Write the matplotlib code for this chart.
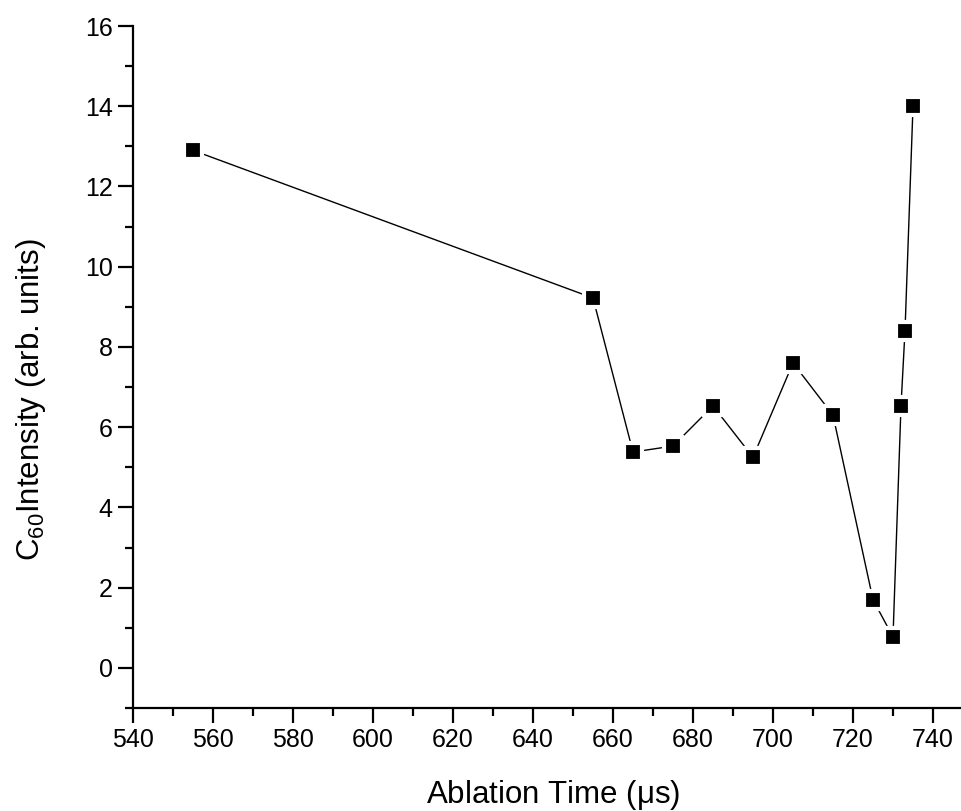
import numpy as np
import matplotlib
matplotlib.use("Agg")
from matplotlib import pyplot as plt
from matplotlib.ticker import MultipleLocator

plt.rcParams['font.family'] = ['Liberation Sans', 'DejaVu Sans']
plt.rcParams['mathtext.fontset'] = 'custom'
plt.rcParams['mathtext.rm'] = 'Liberation Sans'
plt.rcParams['mathtext.default'] = 'regular'

# ablation time (us) and C60 intensity (arb. units)
time_us = [555, 655, 665, 675, 685, 695, 705, 715, 725, 730, 732, 733, 735]
intensity = [12.9, 9.22, 5.38, 5.53, 6.53, 5.25, 7.6, 6.3, 1.7, 0.77, 6.53, 8.4, 14.0]

fig = plt.figure(figsize=(9.61, 8.11), dpi=100)
ax = fig.add_axes([133/961, 1 - 708/811, 1 - 133/961, (708 - 26)/811])

ax.plot(time_us, intensity, color='black', lw=1.0,
        marker='s', ms=13, mfc='black', mec='white', mew=3)

ax.set_xlim(540, 747)
ax.set_ylim(-1, 16)
ax.xaxis.set_major_locator(MultipleLocator(20))
ax.xaxis.set_minor_locator(MultipleLocator(10))
ax.yaxis.set_major_locator(MultipleLocator(2))
ax.yaxis.set_minor_locator(MultipleLocator(1))

for s in ['top', 'right']:
    ax.spines[s].set_visible(False)
for s in ['left', 'bottom']:
    ax.spines[s].set_linewidth(1.6)

ax.tick_params(which='major', direction='out', length=10.5, width=1.6, labelsize=18, pad=4)
ax.tick_params(which='minor', direction='out', length=5.5, width=1.6)

ax.set_xlabel('Ablation Time ($\\mu$s)', fontsize=22.5)
ax.set_ylabel('C$_{60}$Intensity (arb. units)', fontsize=22.5)
ax.xaxis.set_label_coords(0.508, -0.102)
ax.yaxis.set_label_coords(-0.103, 0.452)

fig.savefig('out.png', dpi=100)
